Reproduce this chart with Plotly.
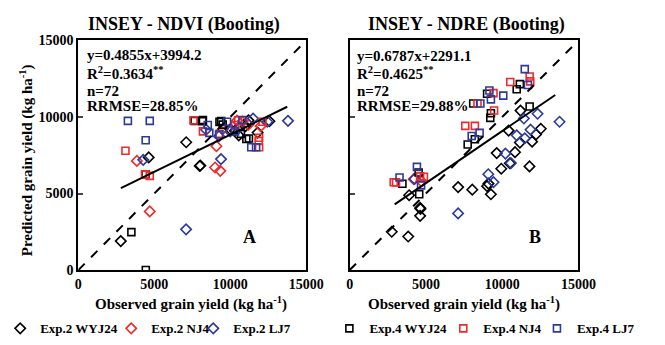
import plotly.graph_objects as go

# ---------------- data (kg ha-1) ----------------
ticks = [0, 5000, 10000, 15000]
tick_labels = ["0", "5000", "10000", "15000"]
group_names = ["Exp.2 WYJ24", "Exp.2 NJ4", "Exp.2 LJ7", "Exp.4 WYJ24", "Exp.4 NJ4", "Exp.4 LJ7"]
group_symbols = ["diamond-open", "diamond-open", "diamond-open", "square-open", "square-open", "square-open"]
group_colors = ["#000000", "#ee2a2a", "#2c3a9c", "#000000", "#ee2a2a", "#2c3a9c"]

# Panel A : INSEY - NDVI
A_e2_wyj24_x = [2790, 4630, 7100, 7990, 8030, 10000, 10560, 11200, 11800, 12580, 11000, 10300]
A_e2_wyj24_y = [1890, 7360, 8350, 6800, 6830, 9200, 8800, 9780, 8980, 9720, 9400, 9100]
A_e2_nj4_x = [3850, 4700, 9000, 9340, 10440, 9090, 11200, 10800, 12000, 9500]
A_e2_nj4_y = [7130, 3830, 6700, 6480, 9760, 8090, 9500, 9700, 9400, 9200]
A_e2_lj7_x = [7090, 9390, 13800, 4270, 12440, 10000, 9260, 8410, 11500, 10600]
A_e2_lj7_y = [2660, 7250, 9750, 7200, 9690, 9060, 8750, 9170, 9900, 9300]
A_e4_wyj24_x = [3490, 4440, 4420, 7650, 8170, 9290, 9400, 11060, 11230, 8200, 10700, 9500]
A_e4_wyj24_y = [2480, 0, 6260, 9750, 9720, 9680, 9740, 8560, 8600, 9800, 8900, 9500]
A_e4_nj4_x = [3100, 4390, 4700, 7580, 8200, 10520, 11900, 11870, 11900, 10320, 12120, 9300]
A_e4_nj4_y = [7790, 6250, 6150, 9780, 9060, 9790, 8640, 8440, 8020, 9480, 9690, 8900]
A_e4_lj7_x = [3260, 4700, 4430, 8520, 9790, 8620, 11380, 11700, 10320, 9260, 10800]
A_e4_lj7_y = [9750, 9750, 8480, 9480, 9690, 8960, 8020, 8020, 9060, 8860, 9800]

# Panel B : INSEY - NDRE
B_e2_wyj24_x = [2760, 3840, 3900, 4620, 4620, 4640, 7110, 8040, 9010, 9100, 9260, 9640,
                9940, 10500, 10840, 11160, 11790, 11960, 12220, 12530, 10420, 11200]
B_e2_wyj24_y = [2500, 2190, 4890, 4060, 3540, 4000, 5420, 5250, 5480, 5650, 4950, 7640,
                6620, 6980, 7700, 8330, 6770, 8390, 8860, 9230, 9110, 10420]
B_e2_nj4_x = [4200, 4700]
B_e2_nj4_y = [5940, 5800]
B_e2_lj7_x = [7110, 9090, 9430, 10210, 10570, 10950, 11420, 11480, 11860, 12320, 13760, 4260]
B_e2_lj7_y = [3700, 6260, 5740, 7610, 6990, 8800, 9900, 8610, 9170, 10210, 9690, 5950]
B_e4_wyj24_x = [3460, 4520, 4560, 7740, 8210, 8100, 9010, 9220, 9260, 10950, 11160, 11800]
B_e4_wyj24_y = [5640, 6370, 4950, 8200, 8550, 10880, 11520, 9940, 10250, 11810, 12150, 10690]
B_e4_nj4_x = [2890, 3040, 4620, 4870, 7580, 8210, 8380, 9430, 9470, 10530, 11800, 11840]
B_e4_nj4_y = [5740, 5730, 6120, 6100, 9420, 9420, 10880, 11560, 10420, 12290, 12650, 12330]
B_e4_lj7_x = [3270, 4410, 4680, 8000, 8520, 8570, 9160, 9260, 10070, 11480, 11690]
B_e4_lj7_y = [6050, 6740, 5530, 8760, 8960, 10880, 11730, 11150, 11400, 13130, 12090]

# regression lines: slope, intercept, x range
A_fit = (0.4855, 3994.2, [2800, 13750])
B_fit = (0.6787, 2291.1, [2950, 13480])

A_stats = ["y=0.4855x+3994.2", "R<sup>2</sup>=0.3634<sup>**</sup>", "n=72", "RRMSE=28.85%"]
B_stats = ["y=0.6787x+2291.1", "R<sup>2</sup>=0.4625<sup>**</sup>", "n=72", "RRMSE=29.88%"]

A_groups = [(A_e2_wyj24_x, A_e2_wyj24_y), (A_e2_nj4_x, A_e2_nj4_y), (A_e2_lj7_x, A_e2_lj7_y),
            (A_e4_wyj24_x, A_e4_wyj24_y), (A_e4_nj4_x, A_e4_nj4_y), (A_e4_lj7_x, A_e4_lj7_y)]
B_groups = [(B_e2_wyj24_x, B_e2_wyj24_y), (B_e2_nj4_x, B_e2_nj4_y), (B_e2_lj7_x, B_e2_lj7_y),
            (B_e4_wyj24_x, B_e4_wyj24_y), (B_e4_nj4_x, B_e4_nj4_y), (B_e4_lj7_x, B_e4_lj7_y)]

FONT = "Liberation Serif, Times New Roman, serif"
W, H = 665, 345

fig = go.Figure()

legend_marker_px = [15, 130, 215, 356, 474, 571]

for panel, groups, xa, ya in [("A", A_groups, "x", "y"), ("B", B_groups, "x2", "y2")]:
    for i, (gx, gy) in enumerate(groups):
        lg = "legend" if i == 0 else f"legend{i + 1}"
        fig.add_trace(go.Scatter(
            x=gx, y=gy, mode="markers", name=group_names[i],
            xaxis=xa, yaxis=ya,
            marker=dict(symbol=group_symbols[i], color=group_colors[i],
                        size=8 if "diamond" in group_symbols[i] else 7,
                        line=dict(width=1.6, color=group_colors[i])),
            showlegend=(panel == "A"), legend=lg,
        ))

for fit, xa, ya in [(A_fit, "x", "y"), (B_fit, "x2", "y2")]:
    m, b, xr = fit
    fig.add_trace(go.Scatter(x=xr, y=[m * v + b for v in xr], mode="lines", xaxis=xa, yaxis=ya,
                             line=dict(color="black", width=2), showlegend=False, hoverinfo="skip"))
    fig.add_trace(go.Scatter(x=[0, 15000], y=[0, 15000], mode="lines", xaxis=xa, yaxis=ya,
                             line=dict(color="black", width=2, dash="dash"), showlegend=False,
                             hoverinfo="skip"))

ydom = [1 - 275 / H, 1 - 35 / H]
axis_common = dict(range=[0, 15000], tickvals=ticks, ticktext=tick_labels, showgrid=False,
                   zeroline=False, showline=True, linecolor="black", linewidth=2, mirror=True,
                   tickfont=dict(family=FONT, size=14, color="black", weight="bold"))
fig.update_layout(
    width=W, height=H, margin=dict(l=0, r=0, t=0, b=0),
    paper_bgcolor="white", plot_bgcolor="white",
    xaxis=dict(domain=[76 / W, 312 / W], anchor="y", ticks="", **axis_common),
    yaxis=dict(domain=ydom, anchor="x", ticks="inside", ticklen=5, tickwidth=1.5, **axis_common),
    xaxis2=dict(domain=[357 / W, 594 / W], anchor="y2", ticks="", **axis_common),
    yaxis2=dict(domain=ydom, anchor="x2", ticks="inside", ticklen=5, tickwidth=1.5,
                showticklabels=False, **axis_common),
)

# legends: one per group, placed along the bottom
leg_font = dict(family=FONT, size=13, color="black", weight="bold")
for i, px in enumerate(legend_marker_px):
    key = "legend" if i == 0 else f"legend{i + 1}"
    fig.update_layout(**{key: dict(x=(px - 20) / W, xanchor="left", y=1 - 336 / H, yanchor="middle",
                                   orientation="h", font=leg_font, bgcolor="rgba(0,0,0,0)",
                                   borderwidth=0, tracegroupgap=0, valign="middle")})

ann = []
def text(x, y, s, size, **kw):
    d = dict(x=x / W, y=1 - y / H, xref="paper", yref="paper", text=s, showarrow=False,
             xanchor="center", yanchor="middle",
             font=dict(family=FONT, size=size, color="black", weight="bold"))
    d.update(kw)
    ann.append(d)

text(185, 18, "INSEY - NDVI (Booting)", 18)
text(478, 18, "INSEY - NDRE (Booting)", 18)
for s, yy in zip(A_stats, [50, 69, 88, 104]):
    text(83, yy, s, 15, xanchor="left")
for s, yy in zip(B_stats, [51, 69, 88, 104]):
    text(363, yy, s, 15, xanchor="left")
text(253, 240, "A", 18)
text(549, 240, "B", 18)
text(193, 310, "Observed grain yield (kg ha<sup>-1</sup>)", 15)
text(475, 310, "Observed grain yield (kg ha<sup>-1</sup>)", 15)
text(22, 160, "Predicted grain yield (kg ha<sup>-1</sup>)", 15, textangle=-90)
fig.update_layout(annotations=ann)

fig.write_html("out.html")
